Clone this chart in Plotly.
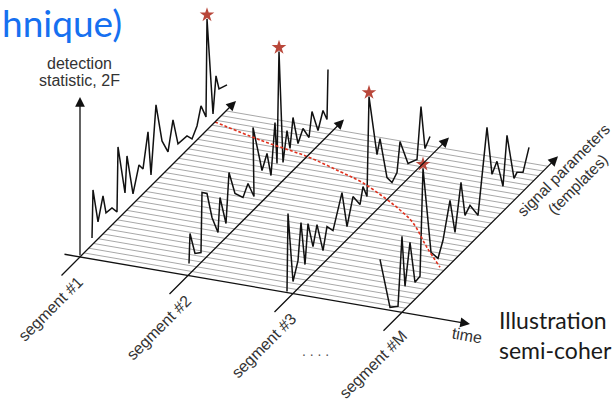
import plotly.graph_objects as go

# ---- data: per-segment detection statistic (2F) versus template position ----
segment_names = ["segment #1", "segment #2", "segment #3", "segment #M"]
segment_times = [17, 125, 230, 339]          # segment start along the time axis

seg1_template = [12, 13, 18, 23, 26, 32, 37, 38, 45, 47, 53, 59, 63, 68, 71, 76, 82, 88, 93, 98,
                 107, 112, 117, 121, 126, 127, 133, 136, 139, 147]
seg1_2F = [7, 54, 17, 38, 18, 17, 8, 72, 19, 54, 10, 33, 25, 57, 11, 76, 34, 17, 44, 15,
           14, 6, 14, 30, 14, 111, 10, 45, 29, 25]

seg2_template = [1, 2, 7, 13, 14, 19, 24, 30, 32, 38, 41, 47, 55, 60, 66, 65, 72, 74, 79, 83,
                 87, 89, 91, 95, 99, 102, 105, 110, 115, 121, 124, 130, 135, 139, 140]
seg2_2F = [11, 40, 15, 10, 69, 63, 34, 13, 46, 14, 62, 35, 23, 32, 13, 83, 43, 31, 43, 17,
           66, 23, 133, 18, 46, 25, 53, 22, 32, 17, 40, 15, 30, 17, 66]

seg3_template = [-6, -5, 0, 5, 8, 12, 15, 20, 24, 30, 34, 40, 49, 54, 60, 67, 70, 74, 76, 84,
                 87, 94, 99, 104, 107, 115, 124, 128, 132, 137]
seg3_2F = [8, 85, 12, 28, 63, 17, 55, 27, 45, 13, 33, 23, 52, 13, 37, 22, 37, 23, 121, 55,
           68, 22, 12, 17, 45, 15, 10, 59, 13, 20]

segM_template = [-22, -12, -4, 0, 3, 8, 13, 18, 21, 29, 36, 41, 48, 53, 59, 63, 68, 76, 85, 90,
                 95, 101, 105, 112, 115, 121, 127]
segM_2F = [75, 17, 10, 76, 23, 62, 17, 18, 123, 31, 18, 31, 64, 27, 71, 34, 39, 21, 100, 48,
           56, 25, 72, 22, 25, 19, 38]

segment_templates = [seg1_template, seg2_template, seg3_template, segM_template]
segment_2F = [seg1_2F, seg2_2F, seg3_2F, segM_2F]

# signal track across the template bank (time, template)
track_time = [17, 72, 125, 166, 194, 230, 250, 272, 305, 333]
track_template = [135, 126, 119, 111, 105, 94, 87, 78, 59, 44]

# template bank grid
n_templates = 31
template_first, template_last = 4, 146

# ---- oblique projection of the (time, template, 2F) box onto the page ----
X0, Y0 = 63.0, 254.0
TIME_SLOPE = 0.172
TIME_END = 407
TEMPLATE_START, TEMPLATE_END = -20, 156
STAT_TOP = 160


def project(t, p, z=0.0):
    return X0 + t + p, Y0 + TIME_SLOPE * t - p - z


INK = "#111111"
LABEL = "#333333"
SANS = "Liberation Sans"
fig = go.Figure()

# grey template lines spanning all segments
gx, gy = [], []
step = (template_last - template_first) / (n_templates - 1)
for i in range(n_templates):
    p = template_first + i * step
    x1, y1 = project(segment_times[0], p)
    x2, y2 = project(segment_times[-1], p)
    gx += [x1, x2, None]
    gy += [y1, y2, None]
fig.add_trace(go.Scatter(x=gx, y=gy, mode="lines",
                         line=dict(color="#a8a8a8", width=1), hoverinfo="skip"))

# 2F traces per segment
for t0, tpl, vals in zip(segment_times, segment_templates, segment_2F):
    xs, ys = zip(*[project(t0, p, z) for p, z in zip(tpl, vals)])
    fig.add_trace(go.Scatter(x=xs, y=ys, mode="lines",
                             line=dict(color=INK, width=1.5), hoverinfo="skip"))

# signal track
tx, ty = zip(*[project(t, p) for t, p in zip(track_time, track_template)])
fig.add_trace(go.Scatter(x=tx, y=ty, mode="lines",
                         line=dict(color="#e0321f", width=1.6, dash="3px,2px", shape="spline"),
                         hoverinfo="skip"))

# loudest candidate of each segment
sx, sy = [], []
for t0, tpl, vals in zip(segment_times, segment_templates, segment_2F):
    k = max(range(len(vals)), key=lambda i: vals[i])
    x, y = project(t0, tpl[k], vals[k])
    sx.append(x)
    sy.append(y - 4)
fig.add_trace(go.Scatter(x=sx, y=sy, mode="markers",
                         marker=dict(symbol="star", size=11, color="#b9473a",
                                     line=dict(width=0)),
                         hoverinfo="skip"))

annotations = []


def arrow(p_from, p_to, head=True):
    annotations.append(dict(x=p_to[0], y=p_to[1], ax=p_from[0], ay=p_from[1],
                            xref="x", yref="y", axref="x", ayref="y", text="",
                            showarrow=True, arrowhead=2 if head else 0, arrowsize=1.5,
                            arrowwidth=1.3, arrowcolor=INK, standoff=0, startstandoff=0))


# time axis
arrow(project(0, 0), project(TIME_END, 0))
# detection statistic axis
arrow(project(segment_times[0], 0), project(segment_times[0], 0, STAT_TOP))
# template axes, one per segment
for t0 in segment_times:
    arrow(project(t0, TEMPLATE_START), project(t0, TEMPLATE_END))


def label(text, x, y, size=16, angle=0, color=LABEL, family=SANS, xanchor="center", pad=1):
    annotations.append(dict(x=x, y=y, xref="x", yref="y", text=text, showarrow=False,
                            textangle=angle, xanchor=xanchor, yanchor="middle",
                            borderpad=pad,
                            font=dict(size=size, color=color, family=family)))


sx0, sy0 = project(segment_times[0], 0)
label("detection", sx0 - 1, 63)
label("statistic, 2F", sx0 - 1, 80.5)

for name, t0 in zip(segment_names, segment_times):
    ox, oy = project(t0, 0)
    label(name, ox - 29, oy + 52, angle=-45)

tx_end, ty_end = project(TIME_END, 0)
label("time", tx_end - 3, ty_end + 11, angle=10)
pmx, pmy = project(segment_times[-1], TEMPLATE_END)
label("signal parameters<br>(templates)", pmx + 12, pmy + 21, size=15.5, angle=-45)
label(". . . .", 315, 351, size=14, color="#555555")

label("hnique)", 1, 22, size=37, color="#1670f0", family="Lato", xanchor="left", pad=0)
label("Illustration", 497, 320, size=23, color="#1a1a1a", family="Lato", xanchor="left")
label("semi-coher", 497, 350, size=23, color="#1a1a1a", family="Lato", xanchor="left")

fig.update_layout(
    width=614, height=401, margin=dict(l=0, r=0, t=0, b=0),
    paper_bgcolor="white", plot_bgcolor="white", showlegend=False,
    xaxis=dict(range=[0, 614], visible=False, fixedrange=True),
    yaxis=dict(range=[401, 0], visible=False, fixedrange=True),
    annotations=annotations,
)

fig.write_html("out.html")
